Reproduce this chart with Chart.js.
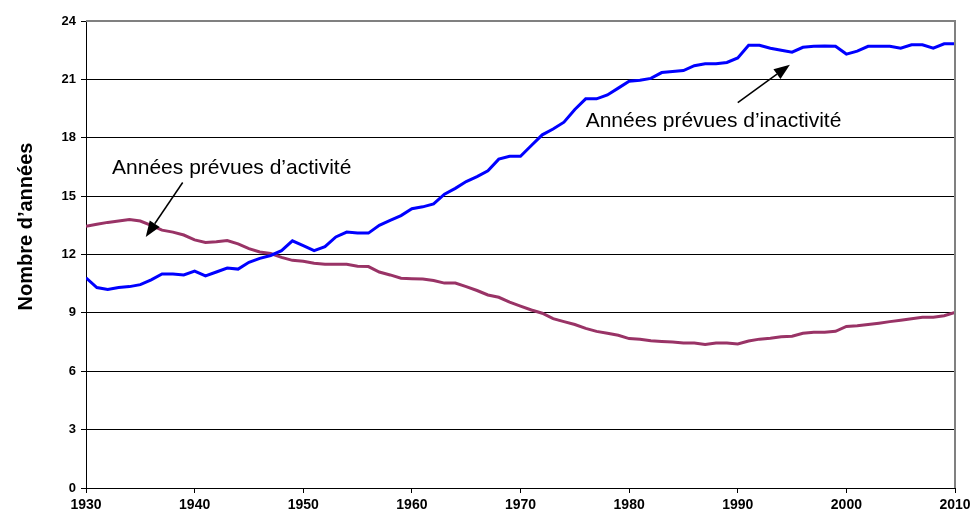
<!DOCTYPE html>
<html>
<head>
<meta charset="utf-8">
<script src="https://cdn.jsdelivr.net/npm/chart.js@4/dist/chart.umd.min.js"></script>
<style>
html,body{margin:0;padding:0;background:#fff;}
#wrap{width:976px;height:522px;position:relative;}
</style>
</head>
<body>
<div id="wrap"><canvas id="c" width="976" height="522"></canvas></div>
<script>
const years = [1930,1931,1932,1933,1934,1935,1936,1937,1938,1939,
1940,1941,1942,1943,1944,1945,1946,1947,1948,1949,
1950,1951,1952,1953,1954,1955,1956,1957,1958,1959,
1960,1961,1962,1963,1964,1965,1966,1967,1968,1969,
1970,1971,1972,1973,1974,1975,1976,1977,1978,1979,
1980,1981,1982,1983,1984,1985,1986,1987,1988,1989,
1990,1991,1992,1993,1994,1995,1996,1997,1998,1999,
2000,2001,2002,2003,2004,2005,2006,2007,2008,2009,2010];

const inactivite = [10.8,10.3,10.2,10.3,10.35,10.45,10.7,11.0,11.0,10.95,
11.15,10.9,11.1,11.3,11.25,11.6,11.8,11.95,12.2,12.7,
12.45,12.2,12.4,12.9,13.15,13.1,13.1,13.5,13.75,14.0,
14.35,14.45,14.6,15.1,15.4,15.75,16.0,16.3,16.9,17.05,
17.05,17.6,18.15,18.45,18.8,19.45,20.0,20.0,20.2,20.55,
20.9,20.95,21.05,21.35,21.4,21.45,21.7,21.8,21.8,21.87,
22.1,22.75,22.75,22.6,22.5,22.4,22.65,22.7,22.72,22.7,
22.3,22.45,22.7,22.7,22.7,22.6,22.78,22.78,22.6,22.83,22.83];

const activite = [13.45,13.55,13.65,13.72,13.8,13.72,13.5,13.25,13.15,13.0,
12.75,12.62,12.65,12.72,12.55,12.3,12.13,12.05,11.85,11.7,
11.65,11.55,11.5,11.5,11.5,11.4,11.38,11.1,10.95,10.78,
10.76,10.74,10.66,10.53,10.53,10.35,10.15,9.92,9.8,9.55,
9.35,9.15,8.98,8.7,8.55,8.4,8.2,8.05,7.95,7.85,
7.68,7.65,7.57,7.53,7.5,7.45,7.45,7.38,7.45,7.45,
7.4,7.55,7.65,7.7,7.77,7.8,7.95,8.0,8.0,8.05,
8.3,8.34,8.4,8.47,8.55,8.62,8.7,8.77,8.78,8.85,9.02];

const yTitle = "Nombre d\u2019ann\u00e9es";
const labelActivite = "Ann\u00e9es pr\u00e9vues d\u2019activit\u00e9";
const labelInactivite = "Ann\u00e9es pr\u00e9vues d\u2019inactivit\u00e9";

// annotation anchors in data units [year, value]
const noteActivite = {text:[1932.4, 16.45], from:[1938.9, 15.7], to:[1935.5, 12.9]};
const noteInactivite = {text:[1976.0, 18.85], from:[1990.0, 19.8], to:[1994.8, 21.75]};

const toXY = (vals) => years.map((y,i)=>({x:y, y:vals[i]}));

const annot = {
  id:'annot',
  afterDatasetsDraw(chart){
    const {ctx, scales:{x,y}, chartArea:a} = chart;
    ctx.save();
    // plot border (top & right)
    ctx.strokeStyle = '#808080';
    ctx.lineWidth = 2;
    ctx.beginPath();
    ctx.moveTo(a.left, a.top);
    ctx.lineTo(a.right, a.top);
    ctx.lineTo(a.right, a.bottom);
    ctx.stroke();

    function arrow(from, to){
      const x1=x.getPixelForValue(from[0]), y1=y.getPixelForValue(from[1]);
      const x2=x.getPixelForValue(to[0]), y2=y.getPixelForValue(to[1]);
      const ang=Math.atan2(y2-y1,x2-x1);
      const L=16, W=6;
      const bx=x2-L*Math.cos(ang), by=y2-L*Math.sin(ang);
      ctx.strokeStyle='#000'; ctx.lineWidth=1.5;
      ctx.beginPath(); ctx.moveTo(x1,y1); ctx.lineTo(bx,by); ctx.stroke();
      ctx.fillStyle='#000';
      ctx.beginPath();
      ctx.moveTo(x2,y2);
      ctx.lineTo(bx+W*Math.sin(ang), by-W*Math.cos(ang));
      ctx.lineTo(bx-W*Math.sin(ang), by+W*Math.cos(ang));
      ctx.closePath(); ctx.fill();
    }
    ctx.font = '21px "Liberation Sans", Arial, sans-serif';
    ctx.fillStyle = '#000';
    ctx.textBaseline = 'middle';
    ctx.textAlign = 'left';
    ctx.fillText(labelActivite, x.getPixelForValue(noteActivite.text[0]), y.getPixelForValue(noteActivite.text[1]));
    ctx.fillText(labelInactivite, x.getPixelForValue(noteInactivite.text[0]), y.getPixelForValue(noteInactivite.text[1]));
    arrow(noteActivite.from, noteActivite.to);
    arrow(noteInactivite.from, noteInactivite.to);

    // y title
    ctx.save();
    ctx.translate(26, (a.top+a.bottom)/2 - 28);
    ctx.rotate(-Math.PI/2);
    ctx.font = 'bold 20px "Liberation Sans", Arial, sans-serif';
    ctx.textAlign='center'; ctx.textBaseline='middle';
    ctx.fillText(yTitle, 0, 0);
    ctx.restore();
    ctx.restore();
  }
};

new Chart(document.getElementById('c'), {
  type:'line',
  data:{
    datasets:[
      {label:labelInactivite, data:toXY(inactivite), borderColor:'#0000FF', borderWidth:3, pointRadius:0, tension:0, fill:false},
      {label:labelActivite, data:toXY(activite), borderColor:'#993366', borderWidth:3, pointRadius:0, tension:0, fill:false}
    ]
  },
  options:{
    responsive:false,
    animation:false,
    layout:{padding:{top:21, right:21, left:0, bottom:0}},
    plugins:{legend:{display:false}, tooltip:{enabled:false}},
    scales:{
      x:{
        type:'linear', min:1930, max:2010,
        afterFit(s){ s.height = 34; },
        ticks:{stepSize:10, color:'#000', font:{family:'"Liberation Sans", Arial, sans-serif', size:14, weight:'bold'}, padding:4, maxRotation:0, callback:v=>String(v)},
        grid:{drawOnChartArea:false, drawTicks:true, tickLength:5, color:'#000'},
        border:{color:'#000', width:1}
      },
      y:{
        min:0, max:24,
        afterFit(s){ s.width = 86; },
        ticks:{stepSize:3, color:'#000', font:{family:'"Liberation Sans", Arial, sans-serif', size:13, weight:'bold'}, padding:5},
        grid:{color:'#000', lineWidth:1, tickLength:5},
        border:{color:'#000', width:1}
      }
    }
  },
  plugins:[annot]
});
</script>
</body>
</html>
